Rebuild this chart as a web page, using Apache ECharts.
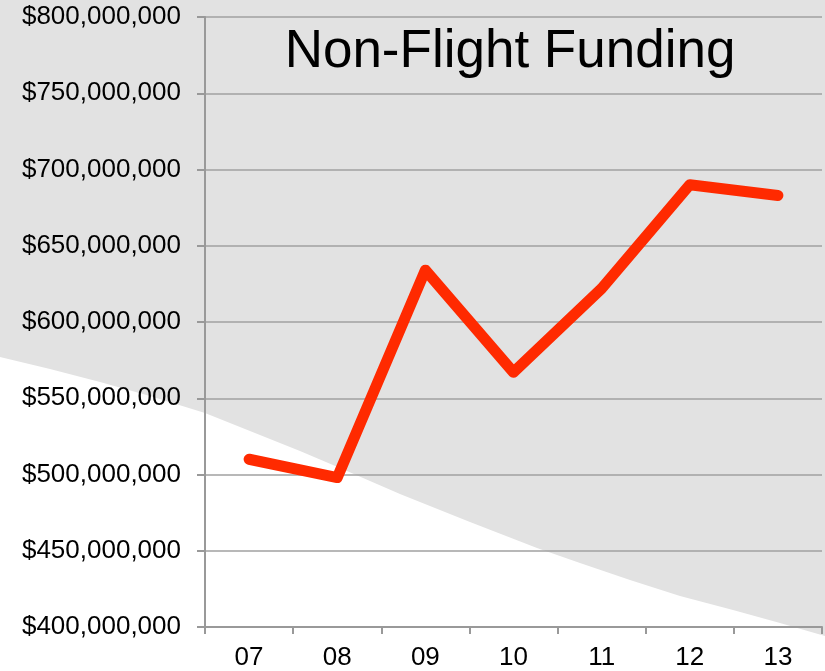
<!DOCTYPE html>
<html><head><meta charset="utf-8">
<script src="https://cdn.jsdelivr.net/npm/echarts@6/dist/echarts.min.js"></script>
<style>html,body{margin:0;padding:0;background:#e2e2e2}#c{width:825px;height:671px}</style>
</head><body><div id="c"></div>
<script>
const categories = ['07','08','09','10','11','12','13'];
const funding = [510000000, 498000000, 634000000, 567000000, 622000000, 690000000, 683000000];
const titleText = 'Non-Flight Funding';

const chart = echarts.init(document.getElementById('c'), null, {renderer:'canvas'});
const fmt = v => '$' + String(v).replace(/\B(?=(\d{3})+(?!\d))/g, ',');
const FONT = 'Liberation Sans, Arial, sans-serif';
chart.setOption({
  backgroundColor: '#e2e2e2',
  animation: false,
  graphic: [{
    type: 'polygon', z: -10, silent: true,
    shape: {points: [[0,357],[50,369],[100,382],[150,396],[205,413],[250,431],[300,451],[340,468],[400,494],[470,522],[537,548],[580,563],[630,580],[680,596],[733,610],[780,623],[825,636],[825,671],[0,671]]},
    style: {fill: '#ffffff'}
  }],
  title: {
    text: titleText, left: 505, top: 21, textAlign: 'center',
    textStyle: {fontFamily: FONT, fontSize: 53, fontWeight: 'normal', color: '#000'}
  },
  grid: {left: 205, right: 3, top: 17, bottom: 44},
  xAxis: {
    type: 'category', data: categories, boundaryGap: true,
    axisLine: {lineStyle: {color: '#999', width: 2}},
    axisTick: {show: true, length: 7, lineStyle: {color: '#999', width: 2}},
    axisLabel: {color: '#000', fontSize: 26, fontFamily: FONT, margin: 18}
  },
  yAxis: {
    type: 'value', min: 400000000, max: 800000000, interval: 50000000,
    axisLine: {show: true, lineStyle: {color: '#999', width: 2}},
    axisTick: {show: true, length: 8, lineStyle: {color: '#999', width: 2}},
    splitLine: {lineStyle: {color: '#a0a0a0', width: 1.5}},
    axisLabel: {color: '#000', fontSize: 26, fontFamily: FONT, margin: 24, formatter: fmt}
  },
  series: [{
    type: 'line', data: funding, symbol: 'none',
    lineStyle: {color: '#ff2a00', width: 11, cap: 'round', join: 'round'}
  }]
});
</script></body></html>
